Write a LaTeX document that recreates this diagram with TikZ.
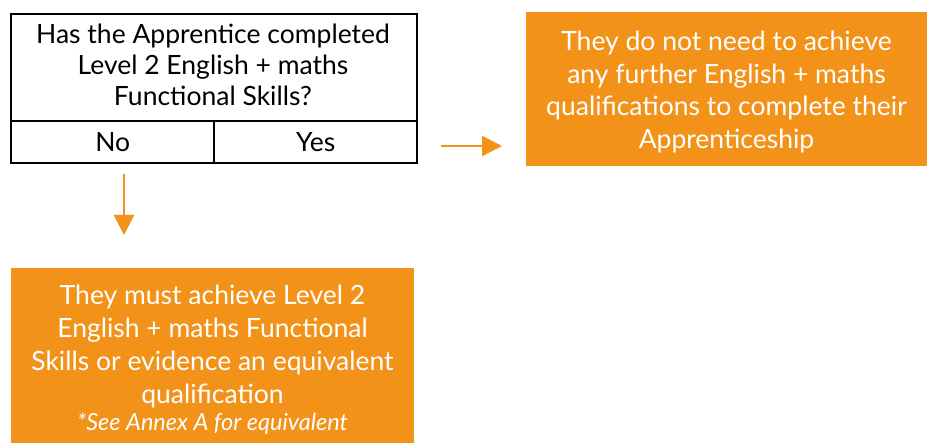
\documentclass[tikz,border=0pt]{standalone}
\usepackage{fontspec}
\setmainfont{Lato}
\usetikzlibrary{arrows.meta}
\definecolor{appOrange}{RGB}{242,146,25}
\tikzset{
  cell/.style={draw=black, line width=2.4pt, rectangle, inner sep=0pt, anchor=north west,
    font=\fontsize{26.5}{31}\selectfont, align=center},
  outbox/.style={fill=appOrange, rectangle, inner sep=0pt, anchor=north west, text=white,
    font=\fontsize{26.5}{32.3}\selectfont, align=center},
  flow/.style={draw=appOrange, line width=2.6pt, -{Triangle[length=20pt,width=20pt]}}
}
\begin{document}
\begin{tikzpicture}[x=1pt,y=-1pt]
\useasboundingbox (0,0) rectangle (927,443);
\node[cell, minimum width=406pt, minimum height=107pt] (q) at (10,13) {};
\node[font=\fontsize{26.5}{31}\selectfont, align=center, inner sep=0pt] (qt) at (213,65)
  {Has the Apprentice completed\\Level 2 English + maths\\Functional Skills?};
\node[cell, minimum width=203pt, minimum height=42pt] (no) at (10,120) {No};
\node[cell, minimum width=203pt, minimum height=42pt] (yes) at (213,120) {Yes};
\node[outbox, minimum width=401pt, minimum height=154pt] (r) at (526,12) {};
\node[text=white, font=\fontsize{26.5}{32.5}\selectfont, align=center, anchor=center, inner sep=0pt] (rt) at (726.5,92)
  {They do not need to achieve\\any further English + maths\\qualifications to complete their\\Apprenticeship};
\node[outbox, minimum width=403pt, minimum height=175pt] (b) at (11,268) {};
\node[text=white, font=\fontsize{26.5}{33}\selectfont, align=center, anchor=center, inner sep=0pt] (bt) at (212.5,346.5)
  {They must achieve Level 2\\English + maths Functional\\Skills or evidence an equivalent\\qualification};
\node[text=white, font=\fontsize{23.5}{26}\itshape\selectfont, anchor=center, inner sep=0pt] (bn) at (212.5,424)
  {*See Annex A for equivalent};
\coordinate (ra) at (441,146);
\coordinate (rb) at (502,146);
\coordinate (da) at (124,174);
\coordinate (db) at (124,235);
\draw[flow] (ra) -- (rb);
\draw[flow] (da) -- (db);
\end{tikzpicture}
\end{document}
